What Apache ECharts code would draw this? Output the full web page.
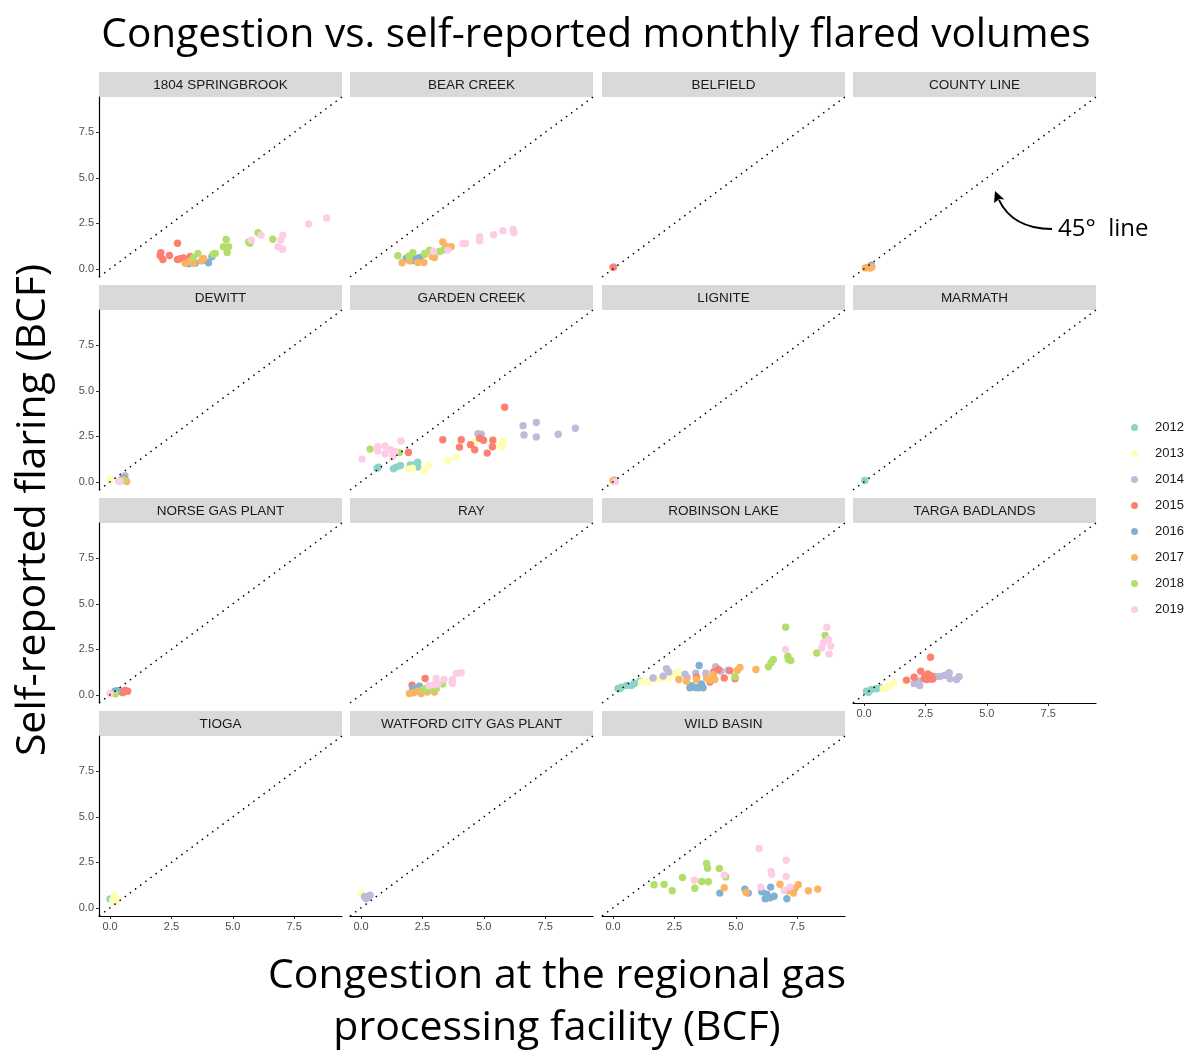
<!DOCTYPE html>
<html>
<head>
<meta charset="utf-8">
<title>Congestion vs. self-reported monthly flared volumes</title>
<script src="https://cdn.jsdelivr.net/npm/echarts@6/dist/echarts.min.js"></script>
<style>
  html, body { margin: 0; padding: 0; background: #ffffff; }
  #chart { width: 1190px; height: 1050px; }
</style>
</head>
<body>
<div id="chart"></div>
<script>
// Years and their fill colours (ColorBrewer Set3)
const years = ['2012', '2013', '2014', '2015', '2016', '2017', '2018', '2019'];
const yearColors = ['#8DD3C7', '#FFFFB3', '#BEBADA', '#FB8072', '#80B1D3', '#FDB462', '#B3DE69', '#FCCDE5'];

const facilities = [
  '1804 SPRINGBROOK', 'BEAR CREEK', 'BELFIELD', 'COUNTY LINE',
  'DEWITT', 'GARDEN CREEK', 'LIGNITE', 'MARMATH',
  'NORSE GAS PLANT', 'RAY', 'ROBINSON LAKE', 'TARGA BADLANDS',
  'TIOGA', 'WATFORD CITY GAS PLANT', 'WILD BASIN'
];

const tickValues = [0, 2.5, 5, 7.5];
const axisRange = [-0.45, 9.45];

// Monthly points: [congestion BCF, self-reported flaring BCF, year]
const springbrook = [
  [2.07,0.88,2015],[2.04,0.73,2015],[2.15,0.51,2015],[2.42,0.73,2015],[2.75,1.41,2015],[2.75,0.51,2015],[2.86,0.55,2015],[2.99,0.60,2015],[3.27,0.68,2015],
  [3.30,0.40,2016],[3.47,0.30,2016],[3.75,0.45,2016],[4.01,0.33,2016],[4.15,0.66,2016],[3.20,0.28,2016],
  [3.06,0.30,2017],[3.40,0.30,2017],[3.25,0.42,2017],[3.72,0.45,2017],[3.81,0.57,2017],
  [3.58,0.85,2018],[3.40,0.62,2018],[4.20,0.80,2018],[4.29,0.85,2018],[4.62,1.21,2018],[4.73,1.61,2018],[4.83,1.21,2018],[4.77,0.90,2018],[5.65,1.48,2018],[5.70,1.40,2018],[6.03,1.98,2018],[6.63,1.63,2018],
  [5.75,1.58,2019],[6.15,1.85,2019],[6.84,1.21,2019],[7.03,1.08,2019],[6.96,1.58,2019],[7.04,1.85,2019],[8.09,2.46,2019],[8.82,2.80,2019]
];
const bearCreek = [
  [1.84,0.57,2016],[2.25,0.57,2016],[2.05,0.45,2016],[2.40,0.62,2016],
  [1.67,0.33,2017],[1.97,0.44,2017],[2.31,0.35,2017],[2.56,0.35,2017],[2.99,0.62,2017],[2.90,0.66,2017],[3.33,1.48,2017],[3.67,1.21,2017],[3.45,1.25,2017],[2.60,0.80,2017],
  [1.50,0.72,2018],[2.11,0.88,2018],[2.59,0.84,2018],[2.79,1.03,2018],[3.20,0.95,2018],[3.35,1.03,2018],[1.95,0.70,2018],
  [2.95,0.97,2019],[3.54,1.03,2019],[4.15,1.39,2019],[4.25,1.39,2019],[4.83,1.76,2019],[4.83,1.54,2019],[5.40,1.87,2019],[5.78,2.09,2019],[6.19,2.16,2019],[6.23,1.98,2019]
];
const belfield = [[0.03,0.10,2014],[0.00,0.08,2015]];
const countyLine = [[0.30,0.20,2016],[0.05,0.05,2017],[0.15,0.08,2017],[0.25,0.04,2017],[0.32,0.10,2017]];
const dewitt = [[0.00,0.11,2013],[0.61,0.33,2014],[0.58,0.20,2015],[0.50,0.18,2016],[0.68,0.02,2017],[0.55,0.10,2018],[0.41,0.02,2019],[0.35,0.05,2019]];
const gardenCreek = [
  [0.71,0.81,2012],[0.65,0.75,2012],[1.32,0.72,2012],[1.43,0.81,2012],[1.61,0.90,2012],[2.00,0.93,2012],[2.31,1.08,2012],[2.31,0.81,2012],[2.20,0.95,2012],
  [1.95,0.70,2013],[2.09,0.75,2013],[2.56,0.62,2013],[2.75,0.90,2013],[3.54,1.17,2013],[3.88,1.36,2013],[4.63,2.21,2013],[5.48,1.98,2013],[5.78,2.23,2013],[5.76,1.93,2013],
  [4.76,2.64,2014],[4.90,2.62,2014],[6.60,3.08,2014],[7.14,3.26,2014],[6.64,2.58,2014],[7.14,2.47,2014],[8.03,2.62,2014],[8.73,2.95,2014],
  [1.93,1.61,2015],[3.33,2.31,2015],[4.08,2.31,2015],[4.01,1.91,2015],[4.46,2.04,2015],[4.63,1.76,2015],[4.83,2.40,2015],[4.99,2.29,2015],[5.14,1.58,2015],[5.37,2.29,2015],[5.35,1.93,2015],[5.85,4.10,2015],
  [0.37,1.80,2018],[1.56,1.61,2018],
  [0.04,1.25,2019],[0.68,1.94,2019],[0.68,1.70,2019],[0.98,1.97,2019],[0.98,1.54,2019],[1.20,1.76,2019],[1.39,1.67,2019],[1.29,1.39,2019],[1.63,2.25,2019]
];
const lignite = [[0.05,0.10,2014],[0.00,0.06,2017],[0.10,0.02,2019]];
const marmath = [[0.03,0.07,2012]];
const norse = [[0.25,0.10,2013],[0.41,0.20,2015],[0.61,0.24,2015],[0.72,0.20,2015],[0.52,0.12,2015],[0.20,0.20,2016],[0.30,0.22,2016],[0.22,0.05,2018],[0.00,0.07,2019]];
const ray = [
  [2.08,0.53,2015],[2.61,0.90,2015],
  [2.11,0.35,2016],[2.38,0.48,2016],[2.25,0.25,2016],
  [1.97,0.07,2017],[2.15,0.12,2017],[2.45,0.07,2017],[2.70,0.15,2017],[2.99,0.15,2017],[2.30,0.20,2017],
  [2.52,0.29,2018],[2.86,0.29,2018],[3.06,0.33,2018],[3.33,0.59,2018],[3.72,0.66,2018],[2.65,0.35,2018],
  [2.77,0.51,2019],[3.06,0.90,2019],[3.38,0.84,2019],[3.13,0.59,2019],[3.72,0.84,2019],[3.88,1.17,2019],[4.08,1.21,2019],[3.72,0.62,2019],[3.00,0.55,2019]
];
const robinsonLake = [
  [0.20,0.35,2012],[0.27,0.33,2012],[0.34,0.42,2012],[0.55,0.51,2012],[0.75,0.51,2012],[0.86,0.62,2012],[1.09,0.75,2012],
  [1.16,0.70,2013],[1.43,0.70,2013],[1.97,0.93,2013],[2.25,0.93,2013],[2.63,1.25,2013],[2.52,1.15,2013],[1.75,0.85,2013],
  [1.63,0.93,2014],[2.04,1.03,2014],[2.18,1.43,2014],[2.27,1.26,2014],[2.93,1.14,2014],[3.02,0.95,2014],[3.37,1.19,2014],[3.78,1.19,2014],[4.18,1.54,2014],[4.39,1.30,2014],[4.69,1.35,2014],
  [3.40,0.95,2015],[3.95,0.70,2015],[4.10,1.26,2015],[4.29,1.39,2015],[4.53,0.93,2015],[4.76,1.33,2015],[4.97,0.89,2015],
  [3.13,0.39,2016],[3.20,0.50,2016],[3.35,0.40,2016],[3.51,1.61,2016],[3.47,0.39,2016],[3.67,0.39,2016],[3.60,0.60,2016],
  [2.68,0.84,2017],[2.99,0.75,2017],[3.40,0.84,2017],[3.81,0.93,2017],[4.08,1.10,2017],[4.15,0.84,2017],[3.95,0.80,2017],[5.07,1.35,2017],[5.17,1.50,2017],[5.82,1.39,2017],
  [4.97,1.00,2018],[6.33,1.54,2018],[6.44,1.76,2018],[6.53,1.94,2018],[7.03,3.72,2018],[7.12,2.12,2018],[7.14,1.94,2018],[7.24,1.89,2018],[8.30,2.30,2018],[8.64,3.26,2018],
  [7.03,2.49,2019],[8.71,3.72,2019],[8.78,3.04,2019],[8.57,2.86,2019],[8.87,2.68,2019],[8.51,2.58,2019],[8.80,2.25,2019]
];
const targaBadlands = [
  [0.10,0.20,2012],[0.18,0.14,2012],[0.30,0.29,2012],[0.50,0.33,2012],[0.68,0.39,2012],
  [0.78,0.33,2013],[0.91,0.39,2013],[1.05,0.48,2013],[1.22,0.66,2013],[1.66,0.75,2013],
  [2.04,0.62,2014],[2.27,0.51,2014],[2.20,0.75,2014],[3.09,1.01,2014],[3.29,1.08,2014],[3.47,1.21,2014],[3.50,0.88,2014],[3.77,0.84,2014],[3.87,0.99,2014],[2.90,1.01,2014],
  [1.73,0.81,2015],[2.04,0.97,2015],[2.31,1.30,2015],[2.71,2.07,2015],[2.48,1.01,2015],[2.55,0.84,2015],[2.72,0.87,2015],[2.74,1.04,2015],[2.80,0.87,2015],[2.60,1.15,2015],[2.45,0.88,2015]
];
const tioga = [[0.00,0.49,2012],[0.16,0.66,2013],[0.20,0.35,2013],[0.10,0.40,2013],[0.27,0.45,2013]];
const watfordCity = [[0.00,0.81,2013],[0.14,0.62,2014],[0.20,0.51,2014],[0.37,0.69,2014],[0.28,0.58,2014]];
const wildBasin = [
  [4.35,0.81,2016],[5.37,1.03,2016],[5.51,0.81,2016],[6.06,0.88,2016],[6.20,0.50,2016],[6.26,0.75,2016],[6.42,1.14,2016],[6.40,0.55,2016],[6.56,0.64,2016],[7.08,0.50,2016],
  [4.53,1.11,2017],[5.42,0.84,2017],[6.80,1.30,2017],[7.12,0.94,2017],[7.35,0.81,2017],[7.42,1.08,2017],[7.55,1.27,2017],[7.96,0.94,2017],[8.34,1.03,2017],
  [1.67,1.27,2018],[2.08,1.29,2018],[2.41,0.94,2018],[2.83,1.67,2018],[3.33,1.08,2018],[3.61,1.45,2018],[3.81,2.44,2018],[3.85,2.18,2018],[3.88,1.43,2018],[4.33,2.16,2018],[4.59,1.70,2018],
  [3.31,1.52,2019],[4.53,1.80,2019],[5.95,3.26,2019],[6.02,1.14,2019],[6.44,1.99,2019],[6.46,1.85,2019],[7.05,2.62,2019],[7.05,1.72,2019],[6.97,0.97,2019],[7.21,1.14,2019]
];

const panelPoints = [
  springbrook, bearCreek, belfield, countyLine,
  dewitt, gardenCreek, lignite, marmath,
  norse, ray, robinsonLake, targaBadlands,
  tioga, watfordCity, wildBasin
];

// ---- layout of the facet grid ----
const COLS = 4;
const colLeft = [99, 350, 602, 853];
const rowTop = [97, 310, 523, 736];
const PANEL_W = 243;
const PANEL_H = 180;
const STRIP_H = 25;
const SANS = '"Liberation Sans", Arial, sans-serif';
const HUMANIST = '"Open Sans", "Noto Sans", sans-serif';

const chart = echarts.init(document.getElementById('chart'), null, { renderer: 'canvas' });

const grids = [], xAxes = [], yAxes = [], series = [], graphics = [];

facilities.forEach((name, i) => {
  const row = Math.floor(i / COLS), col = i % COLS;
  const left = colLeft[col], top = rowTop[row];
  const isLeft = col === 0;
  const isBottom = i + COLS >= facilities.length;

  grids.push({ left, top, width: PANEL_W, height: PANEL_H, containLabel: false, outerBoundsMode: 'none' });

  const tickFmt = v => Number(v).toFixed(1);
  xAxes.push({
    type: 'value', gridIndex: i, min: axisRange[0], max: axisRange[1],
    splitLine: { show: false },
    axisLine: { show: isBottom, onZero: false, lineStyle: { color: '#000', width: 1.2 } },
    axisTick: { show: isBottom, customValues: tickValues, length: 3, lineStyle: { color: '#333', width: 1 } },
    axisLabel: { show: isBottom, customValues: tickValues, formatter: tickFmt, margin: 5,
      fontFamily: SANS, fontSize: 11, color: '#4D4D4D' }
  });
  yAxes.push({
    type: 'value', gridIndex: i, min: axisRange[0], max: axisRange[1],
    splitLine: { show: false },
    axisLine: { show: isLeft, onZero: false, lineStyle: { color: '#000', width: 1.2 } },
    axisTick: { show: isLeft, customValues: tickValues, length: 3, lineStyle: { color: '#333', width: 1 } },
    axisLabel: { show: isLeft, customValues: tickValues, formatter: tickFmt, margin: 5,
      fontFamily: SANS, fontSize: 11, color: '#4D4D4D' }
  });

  // points, one series per year so later years sit on top
  years.forEach((yr, k) => {
    const pts = panelPoints[i].filter(p => String(p[2]) === yr).map(p => [p[0], p[1]]);
    if (!pts.length) return;
    series.push({
      name: yr, type: 'scatter', xAxisIndex: i, yAxisIndex: i,
      data: pts, symbol: 'circle', symbolSize: 7.4,
      itemStyle: { color: yearColors[k], opacity: 1 },
      emphasis: { disabled: true }, silent: true
    });
  });

  // dotted 45 degree reference line
  series.push({
    name: '45° line', type: 'line', xAxisIndex: i, yAxisIndex: i,
    data: [[axisRange[0], axisRange[0]], [axisRange[1], axisRange[1]]],
    symbol: 'none', silent: true, z: 5,
    lineStyle: { color: '#000', width: 1.5, type: [1.5, 4.9], cap: 'butt' },
    emphasis: { disabled: true }
  });

  // facet strip
  graphics.push({
    type: 'rect', silent: true,
    shape: { x: left, y: top - STRIP_H, width: PANEL_W, height: STRIP_H },
    style: { fill: '#D9D9D9' }
  });
  graphics.push({
    type: 'text', silent: true,
    x: left + PANEL_W / 2, y: top - STRIP_H / 2 + 1,
    style: { text: name, fill: '#1A1A1A', font: '13.5px ' + SANS, textAlign: 'center', textVerticalAlign: 'middle' }
  });
});

// chart titles
graphics.push({
  type: 'text', silent: true, x: 596, y: 35,
  style: { text: 'Congestion vs. self-reported monthly flared volumes', fill: '#000',
    font: '40.6px ' + HUMANIST, textAlign: 'center', textVerticalAlign: 'middle' }
});
graphics.push({
  type: 'text', silent: true, x: 557, y: 976,
  style: { text: 'Congestion at the regional gas', fill: '#000',
    font: '41px ' + HUMANIST, textAlign: 'center', textVerticalAlign: 'middle' }
});
graphics.push({
  type: 'text', silent: true, x: 557, y: 1028,
  style: { text: 'processing facility (BCF)', fill: '#000',
    font: '41px ' + HUMANIST, textAlign: 'center', textVerticalAlign: 'middle' }
});
graphics.push({
  type: 'text', silent: true, x: 33, y: 510, rotation: Math.PI / 2,
  style: { text: 'Self-reported flaring (BCF)', fill: '#000',
    font: '41px ' + HUMANIST, textAlign: 'center', textVerticalAlign: 'middle' }
});

// callout for the reference line
graphics.push({
  type: 'text', silent: true, x: 1058, y: 229,
  style: { text: '45°  line', fill: '#000', font: '24px ' + HUMANIST, textAlign: 'left', textVerticalAlign: 'middle' }
});
graphics.push({
  type: 'bezierCurve', silent: true,
  shape: { x1: 1052, y1: 229, cpx1: 1024, cpy1: 229, cpx2: 1007, cpy2: 217, x2: 999, y2: 200 },
  style: { stroke: '#000', lineWidth: 1.8, fill: null }
});
graphics.push({
  type: 'polygon', silent: true,
  shape: { points: [[995, 191], [1004.5, 199.5], [999.5, 199], [994, 203]] },
  style: { fill: '#000' }
});

const option = {
  backgroundColor: '#ffffff',
  animation: false,
  grid: grids,
  xAxis: xAxes,
  yAxis: yAxes,
  legend: {
    data: years.map(y => ({ name: y, icon: 'circle' })),
    orient: 'vertical', left: 1126, top: 416,
    itemWidth: 7, itemHeight: 7, itemGap: 13,
    textStyle: { fontFamily: SANS, fontSize: 13, color: '#1A1A1A', padding: [0, 0, 0, 12] },
    selectedMode: false
  },
  series,
  graphic: graphics
};

chart.setOption(option);
</script>
</body>
</html>
